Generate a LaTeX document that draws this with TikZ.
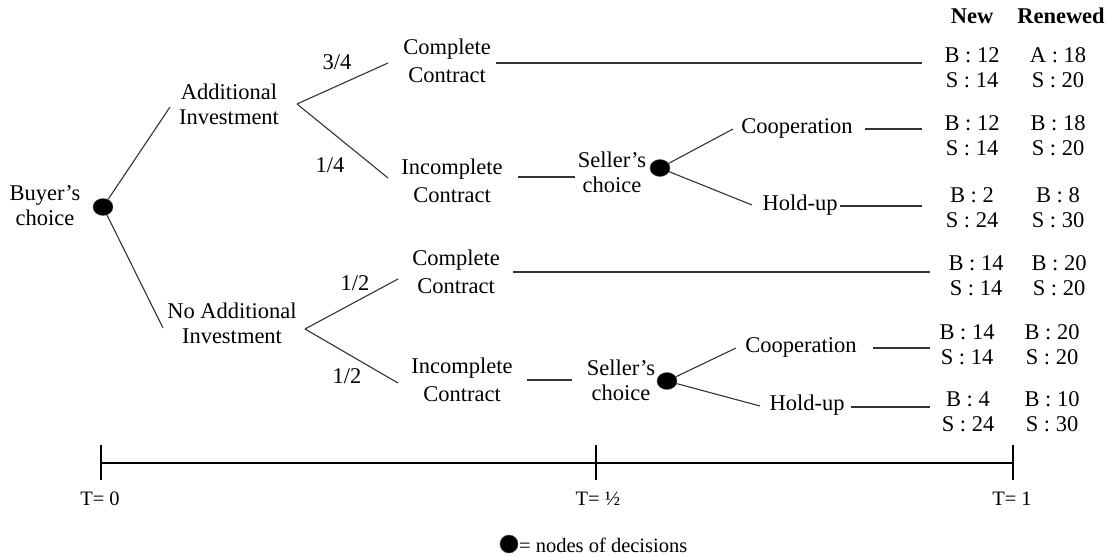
\documentclass[tikz,border=0pt]{standalone}
\usepackage{fontspec}
\setmainfont{Liberation Serif}
\usetikzlibrary{shapes.geometric}
\begin{document}
\begin{tikzpicture}[x=1pt,y=-1pt,
  lbl/.style={font=\fontsize{22.5}{25}\selectfont, align=center, inner sep=0pt},
  lblwide/.style={font=\fontsize{22.5}{28}\selectfont, align=center, inner sep=0pt},
  pay/.style={font=\fontsize{22.5}{25}\selectfont, align=center, inner sep=0pt},
  hdr/.style={font=\fontsize{22.5}{25}\selectfont\bfseries, inner sep=0pt},
  br/.style={draw=black!80, line width=1.1pt},
  decision/.style={ellipse, fill=black, draw=black!70, minimum width=20pt, minimum height=17pt, inner sep=0pt},
  tl/.style={draw=black, line width=1.4pt},
  tlab/.style={font=\fontsize{20.5}{23}\selectfont, inner sep=0pt}
]
\useasboundingbox (0,0) rectangle (1112,557);

% ---------- root ----------
\node[lbl] (buyer) at (45,206) {Buyer’s\\choice};
\node[decision] (d0) at (103,207) {};

% ---------- first level ----------
\coordinate (aiin) at (170,107);
\node[lbl] (ai) at (229,104) {Additional\\Investment};
\coordinate (aiout) at (297,104);
\coordinate (naiin) at (163,328);
\node[lbl] (nai) at (232,323) {No Additional\\Investment};
\coordinate (naiout) at (305,329);
\draw[br] (d0) -- (aiin);
\draw[br] (d0) -- (naiin);

% ---------- upper branch ----------
\coordinate (cc1in) at (388,63);
\coordinate (ic1in) at (388,178);
\draw[br] (aiout) -- (cc1in);
\draw[br] (aiout) -- (ic1in);
\node[lbl] (p34) at (337,62) {3/4};
\node[lbl] (p14) at (330,165) {1/4};

\node[lblwide] (cc1) at (447,61) {Complete\\Contract};
\coordinate (cc1out) at (496,63);
\coordinate (n1in) at (922,63);
\draw[br] (cc1out) -- (n1in);

\node[lblwide] (ic1) at (452,181) {Incomplete\\Contract};
\coordinate (ic1out) at (518,177);
\coordinate (sc1in) at (575,177);
\draw[br] (ic1out) -- (sc1in);
\node[lbl] (sc1) at (612,172) {Seller’s\\choice};
\node[decision] (d1) at (660,168) {};
\coordinate (co1in) at (733,129);
\coordinate (ho1in) at (752,205);
\draw[br] (d1) -- (co1in);
\draw[br] (d1) -- (ho1in);
\node[lbl] (co1) at (797,128) {Cooperation};
\node[lbl] (ho1) at (800,205) {Hold-up};
\coordinate (co1out) at (865,129);
\coordinate (n2in) at (922,129);
\draw[br] (co1out) -- (n2in);
\coordinate (ho1out) at (840,206);
\coordinate (n3in) at (922,206);
\draw[br] (ho1out) -- (n3in);

% ---------- lower branch ----------
\coordinate (cc2in) at (398,279);
\coordinate (ic2in) at (398,383);
\draw[br] (naiout) -- (cc2in);
\draw[br] (naiout) -- (ic2in);
\node[lbl] (p12a) at (355,283) {1/2};
\node[lbl] (p12b) at (347,376) {1/2};

\node[lblwide] (cc2) at (456,272) {Complete\\Contract};
\coordinate (cc2out) at (513,272);
\coordinate (n4in) at (930,272);
\draw[br] (cc2out) -- (n4in);

\node[lblwide] (ic2) at (462,380) {Incomplete\\Contract};
\coordinate (ic2out) at (527,380);
\coordinate (sc2in) at (572,380);
\draw[br] (ic2out) -- (sc2in);
\node[lbl] (sc2) at (621,380) {Seller’s\\choice};
\node[decision] (d2) at (667,381) {};
\coordinate (co2in) at (736,348);
\coordinate (ho2in) at (760,406);
\draw[br] (d2) -- (co2in);
\draw[br] (d2) -- (ho2in);
\node[lbl] (co2) at (801,347) {Cooperation};
\node[lbl] (ho2) at (807,405) {Hold-up};
\coordinate (co2out) at (873,348);
\coordinate (n5in) at (930,348);
\draw[br] (co2out) -- (n5in);
\coordinate (ho2out) at (851,407);
\coordinate (n6in) at (930,407);
\draw[br] (ho2out) -- (n6in);

% ---------- payoffs ----------
\node[hdr] (hnew) at (972,16) {New};
\node[hdr] (hren) at (1061,16) {Renewed};
\node[pay] (n1) at (972,68) {B : 12\\S : 14};
\node[pay] (r1) at (1058,68) {A : 18\\S : 20};
\node[pay] (n2) at (972,136) {B : 12\\S : 14};
\node[pay] (r2) at (1058,136) {B : 18\\S : 20};
\node[pay] (n3) at (972,208) {B : 2\\S : 24};
\node[pay] (r3) at (1058,208) {B : 8\\S : 30};
\node[pay] (n4) at (976,276) {B : 14\\S : 14};
\node[pay] (r4) at (1059,276) {B : 20\\S : 20};
\node[pay] (n5) at (967,345) {B : 14\\S : 14};
\node[pay] (r5) at (1052,345) {B : 20\\S : 20};
\node[pay] (n6) at (968,412) {B : 4\\S : 24};
\node[pay] (r6) at (1052,412) {B : 10\\S : 30};

% ---------- timeline ----------
\coordinate (t0) at (101,463);
\coordinate (th) at (596,463);
\coordinate (t1) at (1013,463);
\draw[tl] (t0) -- (t1);
\foreach \p in {t0,th,t1} \draw[tl] ([yshift=-17pt]\p) -- ([yshift=18pt]\p);
\node[tlab] (lt0) at (100,499) {T= 0};
\node[tlab] (lth) at (598,499) {T= ½};
\node[tlab] (lt1) at (1012,499) {T= 1};

% ---------- legend ----------
\node[decision, minimum width=18pt, minimum height=18pt] (leg) at (509,544) {};
\node[tlab, anchor=west] (legt) at (519,545) {= nodes of decisions};
\end{tikzpicture}
\end{document}
